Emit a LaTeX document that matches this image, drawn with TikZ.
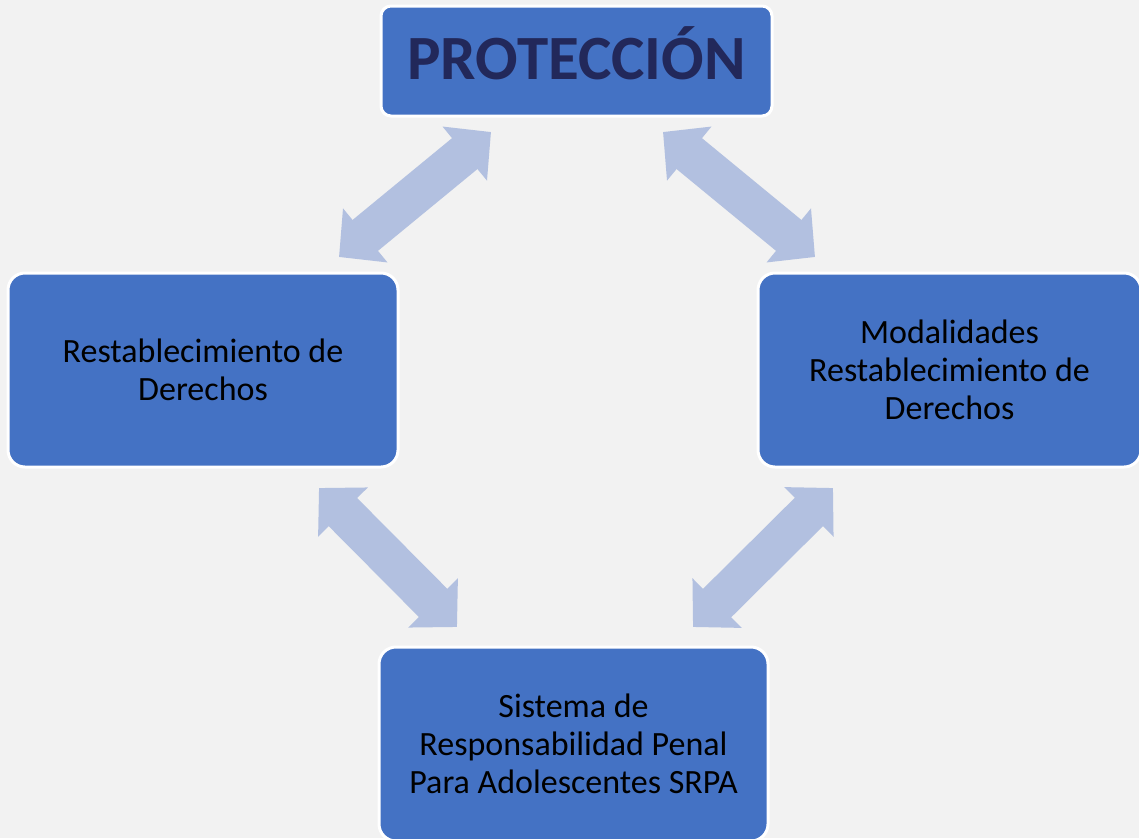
\documentclass[tikz,border=0pt]{standalone}
\usepackage{fontspec}
\setmainfont{Carlito}
\usetikzlibrary{arrows.meta}
\definecolor{boxblue}{RGB}{68,114,196}
\definecolor{titlenavy}{RGB}{34,40,90}
\definecolor{arrowblue}{RGB}{178,192,224}
\definecolor{bggray}{RGB}{242,242,242}
\tikzset{
  bluebox/.style={draw=white, line width=3pt, fill=boxblue, rounded corners=17pt, align=center, inner sep=0pt, font=\fontsize{34}{38}\selectfont},
  dblarrow/.style={draw=arrowblue, line width=40pt, {Triangle[width=68pt,length=34pt]}-{Triangle[width=68pt,length=34pt]}}
}
\begin{document}
\begin{tikzpicture}[x=1pt,y=1pt,yscale=-1,xscale=1]
\fill[bggray] (0,0) rectangle (1139,838);
\useasboundingbox (0,0) rectangle (1139,838);

%Rounded Rect
\node[bluebox, rounded corners=10pt, minimum width=391pt, minimum height=110pt, text height=36pt, text depth=0pt, text=titlenavy, font=\bfseries\fontsize{63}{75}\selectfont] (proteccion) at (576.5,61) {PROTECCIÓN};
%Rounded Rect
\node[bluebox, minimum width=390pt, minimum height=194pt] (restablecimiento) at (203,370) {Restablecimiento de\\Derechos};
%Rounded Rect
\node[bluebox, minimum width=383pt, minimum height=194pt] (modalidades) at (949.5,370) {Modalidades\\Restablecimiento de\\Derechos};
%Rounded Rect
\node[bluebox, minimum width=389pt, minimum height=194pt] (srpa) at (573.5,744) {Sistema de\\Responsabilidad Penal\\Para Adolescentes SRPA};

% Arrow ends
\coordinate (restUp) at (339,257);
\coordinate (protLeft) at (491,132);
\coordinate (protRight) at (663,132);
\coordinate (modUp) at (815,257);
\coordinate (restDown) at (319,488);
\coordinate (srpaLeft) at (457,627);
\coordinate (modDown) at (833,488);
\coordinate (srpaRight) at (693,627);

%Left Right Arrows
\draw[dblarrow] (restUp) -- (protLeft);
\draw[dblarrow] (protRight) -- (modUp);
\draw[dblarrow] (restDown) -- (srpaLeft);
\draw[dblarrow] (modDown) -- (srpaRight);
\end{tikzpicture}
\end{document}
